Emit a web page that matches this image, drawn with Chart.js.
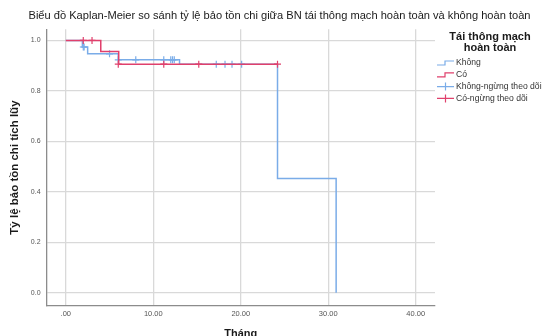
<!DOCTYPE html>
<html lang="vi">
<head>
  <meta charset="UTF-8">
  <title>Kaplan-Meier</title>
  <script src="https://cdn.jsdelivr.net/npm/chart.js"></script>
  <style>
    html, body { margin: 0; padding: 0; background: #FFFFFF; }
    #wrap { width: 555px; height: 336px; }
  </style>
</head>
<body>
  <div id="wrap"><canvas id="kmChart"></canvas></div>

  <script>
    // survival steps (months, cumulative survival)
    const khongTime = [0, 1.9, 2.5, 6.0, 13.0, 24.2, 30.9];
    const khongSurv = [1.0, 0.974, 0.947, 0.923, 0.906, 0.453, 0.0];
    const coTime = [0, 4.0, 6.05, 24.2];
    const coSurv = [1.0, 0.956, 0.906, 0.906];

    // censored marks
    const khongCensTime = [2.0, 2.1, 5.0, 6.0, 8.0, 11.2, 12.0, 12.2, 12.4, 17.2, 18.2, 19.0, 20.1];
    const khongCensSurv = [0.974, 0.974, 0.947, 0.923, 0.923, 0.923, 0.923, 0.923, 0.923, 0.906, 0.906, 0.906, 0.906];
    const coCensTime = [2.0, 3.0, 6.0, 11.2, 15.2, 24.2];
    const coCensSurv = [1.0, 1.0, 0.906, 0.906, 0.906, 0.906];

    const xTicks = [0, 10, 20, 30, 40];
    const yTicks = [0, 0.2, 0.4, 0.6, 0.8, 1.0];
    const legendTitle = ['Tái thông mạch', 'hoàn toàn'];
    const seriesNames = ['Không', 'Có', 'Không-ngừng theo dõi', 'Có-ngừng theo dõi'];

    const blue = '#7AACE8';
    const red = '#E0406C';
    const font = '"Liberation Sans", Arial, sans-serif';

    const toPoints = (xs, ys) => xs.map((x, i) => ({ x: x, y: ys[i] }));

    // hand-drawn legend on the right, SPSS style
    const kmLegend = {
      id: 'kmLegend',
      afterDraw(chart) {
        const ctx = chart.ctx;
        ctx.save();
        ctx.fillStyle = '#1a1a1a';
        ctx.font = 'bold 11px ' + font;
        ctx.textAlign = 'center';
        ctx.textBaseline = 'middle';
        ctx.fillText(legendTitle[0], 490, 37);
        ctx.fillText(legendTitle[1], 490, 48);

        ctx.font = '8.6px ' + font;
        ctx.textAlign = 'left';
        const colors = [blue, red, blue, red];
        seriesNames.forEach((name, i) => {
          const y = 63 + i * 11.8;
          const x0 = 437;
          ctx.strokeStyle = colors[i];
          ctx.lineWidth = 1.2;
          ctx.beginPath();
          if (i < 2) {
            ctx.moveTo(x0, y + 2);
            ctx.lineTo(x0 + 8, y + 2);
            ctx.lineTo(x0 + 8, y - 2);
            ctx.lineTo(x0 + 17, y - 2);
          } else {
            ctx.moveTo(x0, y);
            ctx.lineTo(x0 + 17, y);
            ctx.moveTo(x0 + 8.5, y - 4);
            ctx.lineTo(x0 + 8.5, y + 4);
          }
          ctx.stroke();
          ctx.fillStyle = '#333333';
          ctx.fillText(name, x0 + 19, y);
        });
        ctx.restore();
      }
    };

    new Chart(document.getElementById('kmChart'), {
      type: 'line',
      data: {
        datasets: [
          {
            label: seriesNames[0],
            data: toPoints(khongTime, khongSurv),
            stepped: 'before',
            borderColor: blue,
            borderWidth: 1.5,
            pointRadius: 0,
            fill: false,
            order: 3
          },
          {
            label: seriesNames[1],
            data: toPoints(coTime, coSurv),
            stepped: 'before',
            borderColor: red,
            borderWidth: 1.5,
            pointRadius: 0,
            fill: false,
            order: 1
          },
          {
            type: 'scatter',
            label: seriesNames[2],
            data: toPoints(khongCensTime, khongCensSurv),
            showLine: false,
            pointStyle: 'cross',
            pointRadius: 3.5,
            borderWidth: 1.2,
            borderColor: blue,
            order: 2
          },
          {
            type: 'scatter',
            label: seriesNames[3],
            data: toPoints(coCensTime, coCensSurv),
            showLine: false,
            pointStyle: 'cross',
            pointRadius: 3.5,
            borderWidth: 1.2,
            borderColor: red,
            order: 0
          }
        ]
      },
      options: {
        responsive: true,
        maintainAspectRatio: false,
        animation: false,
        layout: { padding: { left: 4, right: 0, bottom: -5, top: 0 } },
        plugins: {
          legend: { display: false },
          tooltip: { enabled: false },
          title: {
            display: true,
            text: 'Biểu đồ Kaplan-Meier so sánh tỷ lệ bảo tồn chi giữa BN tái thông mạch hoàn toàn và không hoàn toàn',
            color: '#1a1a1a',
            font: { family: font, size: 11.1, weight: 'normal' },
            padding: { top: 9, bottom: 7 }
          }
        },
        scales: {
          x: {
            type: 'linear',
            min: -2.2,
            max: 42.2,
            afterBuildTicks: (axis) => { axis.ticks = xTicks.map(v => ({ value: v })); },
            ticks: {
              color: '#555555',
              font: { family: font, size: 7.5 },
              padding: 4,
              maxRotation: 0,
              callback: (v) => v === 0 ? '.00' : v.toFixed(2)
            },
            grid: { color: '#D9D9D9', lineWidth: 1.3, drawTicks: false },
            border: { color: '#8C8C8C', width: 1.3 },
            title: {
              display: true,
              text: 'Tháng',
              color: '#1a1a1a',
              font: { family: font, size: 11, weight: 'bold' },
              padding: { top: 5, bottom: 0 }
            }
          },
          y: {
            type: 'linear',
            min: -0.052,
            max: 1.044,
            afterBuildTicks: (axis) => { axis.ticks = yTicks.map(v => ({ value: v })); },
            ticks: {
              color: '#555555',
              font: { family: font, size: 7 },
              padding: 6,
              callback: (v) => v.toFixed(1)
            },
            grid: { color: '#D9D9D9', lineWidth: 1.3, drawTicks: false },
            border: { color: '#8C8C8C', width: 1.3 },
            title: {
              display: true,
              text: 'Tỷ lệ bảo tồn chi tích lũy',
              color: '#1a1a1a',
              font: { family: font, size: 11.5, weight: 'bold' },
              padding: { top: 4, bottom: 3 }
            }
          },
          // empty right axis only keeps room for the legend
          yRight: {
            type: 'linear',
            position: 'right',
            display: true,
            grid: { display: false, drawTicks: false },
            border: { display: false },
            ticks: { display: false },
            afterFit: (axis) => { axis.width = 120; }
          }
        }
      },
      plugins: [kmLegend]
    });
  </script>
</body>
</html>
